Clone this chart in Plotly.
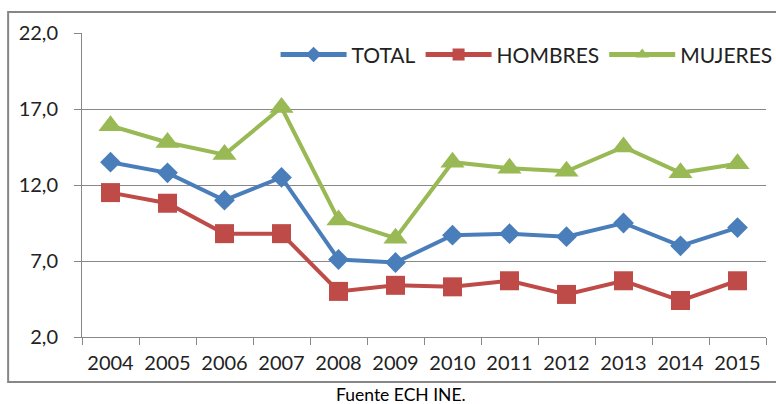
import plotly.graph_objects as go

years = ["2004", "2005", "2006", "2007", "2008", "2009", "2010", "2011", "2012", "2013", "2014", "2015"]
total = [13.5, 12.8, 11.0, 12.5, 7.1, 6.9, 8.7, 8.8, 8.6, 9.5, 8.0, 9.2]
hombres = [11.5, 10.8, 8.8, 8.8, 5.0, 5.4, 5.3, 5.7, 4.8, 5.7, 4.4, 5.7]
mujeres = [15.9, 14.8, 14.0, 17.1, 9.7, 8.5, 13.5, 13.1, 12.9, 14.5, 12.8, 13.4]
y_ticks = [2, 7, 12, 17, 22]
y_labels = ["2,0", "7,0", "12,0", "17,0", "22,0"]

FONT = "Lato"

fig = go.Figure()
fig.add_trace(go.Scatter(x=years, y=total, name="TOTAL", mode="lines+markers",
                         line=dict(color="#4A7EBB", width=4),
                         marker=dict(symbol="diamond", size=16, color="#4A7EBB")))
fig.add_trace(go.Scatter(x=years, y=hombres, name="HOMBRES", mode="lines+markers",
                         line=dict(color="#BE4B48", width=4),
                         marker=dict(symbol="square", size=19, color="#BE4B48")))
fig.add_trace(go.Scatter(x=years, y=mujeres, name="MUJERES", mode="lines+markers",
                         line=dict(color="#98B954", width=4),
                         marker=dict(symbol="triangle-up", size=21, color="#98B954")))

fig.update_layout(
    width=776, height=404,
    margin=dict(l=82, r=10, t=33, b=67, autoexpand=False),
    paper_bgcolor="white", plot_bgcolor="white",
    font=dict(family=FONT, color="#222222"),
    showlegend=True,
    legend=dict(orientation="h", x=0.283, y=0.928, xanchor="left", yanchor="middle",
                font=dict(size=21, family=FONT, color="#222222"),
                bgcolor="rgba(0,0,0,0)", itemwidth=66, itemsizing="constant",
                tracegroupgap=0),
    xaxis=dict(type="category", range=[-0.5, 11.5], tickson="boundaries",
               ticks="outside", ticklen=7, tickcolor="#888888", tickangle=0,
               showline=True, linecolor="#888888", linewidth=1,
               showgrid=False, tickfont=dict(size=20, family=FONT, color="#222222"),
               ticklabelstandoff=8),
    yaxis=dict(range=[2, 22], tickvals=y_ticks, ticktext=y_labels,
               ticks="outside", ticklen=7, tickcolor="#888888",
               showline=True, linecolor="#888888", linewidth=1,
               showgrid=True, gridcolor="#888888", gridwidth=1, zeroline=False,
               tickfont=dict(size=20, family=FONT, color="#222222"),
               ticklabelstandoff=12),
    shapes=[dict(type="rect", xref="paper", yref="paper",
                 x0=-0.108, x1=1.03, y0=-0.148, y1=1.069,
                 line=dict(color="#868686", width=2), fillcolor="rgba(0,0,0,0)", layer="below")],
    annotations=[dict(text="Fuente ECH INE.", xref="paper", yref="paper",
                      x=0.466, y=-0.188, xanchor="center", yanchor="middle",
                      showarrow=False, font=dict(size=17.5, family=FONT, color="#000000"))],
)

fig.write_html("out.html", config={"displayModeBar": False},
               post_script="document.body.style.margin='0';document.body.style.overflow='hidden';")
